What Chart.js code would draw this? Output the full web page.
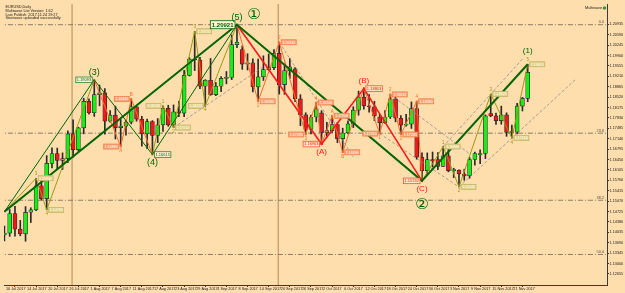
<!DOCTYPE html>
<html>
<head>
<meta charset="utf-8">
<script src="https://cdn.jsdelivr.net/npm/chart.js@4.4.0/dist/chart.umd.min.js"></script>
<style>
  html, body { margin: 0; padding: 0; background: #ffdead; }
  canvas { display: block; }
</style>
</head>
<body>
<canvas id="chart" width="625" height="293"></canvas>
<script>
// EURUSD daily, 10 Jul - 24 Nov 2017
const days = ['10 Jul','11 Jul','12 Jul','13 Jul','14 Jul','17 Jul','18 Jul','19 Jul','20 Jul','21 Jul',
  '24 Jul','25 Jul','26 Jul','27 Jul','28 Jul','31 Jul','1 Aug','2 Aug','3 Aug','4 Aug',
  '7 Aug','8 Aug','9 Aug','10 Aug','11 Aug','14 Aug','15 Aug','16 Aug','17 Aug','18 Aug',
  '21 Aug','22 Aug','23 Aug','24 Aug','25 Aug','28 Aug','29 Aug','30 Aug','31 Aug','1 Sep',
  '4 Sep','5 Sep','6 Sep','7 Sep','8 Sep','11 Sep','12 Sep','13 Sep','14 Sep','15 Sep',
  '18 Sep','19 Sep','20 Sep','21 Sep','22 Sep','25 Sep','26 Sep','27 Sep','28 Sep','29 Sep',
  '2 Oct','3 Oct','4 Oct','5 Oct','6 Oct','9 Oct','10 Oct','11 Oct','12 Oct','13 Oct',
  '16 Oct','17 Oct','18 Oct','19 Oct','20 Oct','23 Oct','24 Oct','25 Oct','26 Oct','27 Oct',
  '30 Oct','31 Oct','1 Nov','2 Nov','3 Nov','6 Nov','7 Nov','8 Nov','9 Nov','10 Nov',
  '13 Nov','14 Nov','15 Nov','16 Nov','17 Nov','20 Nov','21 Nov','22 Nov','23 Nov','24 Nov'];

const open = [1.1395,1.1401,1.1466,1.1414,1.1398,1.1470,1.1478,1.1558,1.1515,1.1632,
  1.1665,1.1642,1.1648,1.1730,1.1678,1.1750,1.1838,1.1800,1.1860,1.1866,
  1.1772,1.1792,1.1751,1.1756,1.1769,1.1820,1.1779,1.1730,1.1771,1.1725,
  1.1760,1.1815,1.1760,1.1803,1.1799,1.1924,1.1978,1.1975,1.1888,1.1908,
  1.1860,1.1888,1.1914,1.1917,1.2026,1.2010,1.1961,1.1966,1.1886,1.1919,
  1.1943,1.1950,1.1997,1.1893,1.1940,1.1946,1.1846,1.1793,1.1745,1.1786,
  1.1800,1.1734,1.1741,1.1761,1.1714,1.1733,1.1763,1.1809,1.1852,1.1823,
  1.1820,1.1786,1.1767,1.1786,1.1846,1.1782,1.1759,1.1762,1.1814,1.1653,
  1.1608,1.1645,1.1645,1.1622,1.1657,1.1608,1.1610,1.1597,1.1591,1.1645,
  1.1660,1.1665,1.1797,1.1790,1.1774,1.1793,1.1735,1.1736,1.1822,1.1848];
const high = [1.1424,1.1479,1.1490,1.1443,1.1489,1.1485,1.1583,1.1583,1.1658,1.1684,
  1.1683,1.1667,1.1740,1.1777,1.1752,1.1848,1.1846,1.1909,1.1892,1.1880,
  1.1807,1.1822,1.1778,1.1775,1.1846,1.1822,1.1788,1.1779,1.1774,1.1781,
  1.1823,1.1825,1.1826,1.1838,1.1941,1.1983,1.2070,1.1984,1.1910,1.1980,
  1.1900,1.1920,1.1937,1.2058,1.2092,1.2022,1.1996,1.1979,1.1978,1.1989,
  1.1995,1.2010,1.2034,1.1962,1.1980,1.1950,1.1860,1.1800,1.1792,1.1834,
  1.1807,1.1768,1.1790,1.1768,1.1749,1.1773,1.1820,1.1872,1.1880,1.1860,
  1.1838,1.1795,1.1807,1.1861,1.1852,1.1791,1.1795,1.1836,1.1838,1.1667,
  1.1667,1.1670,1.1668,1.1688,1.1686,1.1616,1.1611,1.1613,1.1652,1.1670,
  1.1677,1.1793,1.1862,1.1799,1.1822,1.1800,1.1759,1.1831,1.1851,1.1961];
const low = [1.1375,1.1390,1.1391,1.1392,1.1374,1.1436,1.1475,1.1511,1.1478,1.1617,
  1.1612,1.1612,1.1635,1.1653,1.1672,1.1730,1.1795,1.1788,1.1823,1.1729,
  1.1769,1.1713,1.1688,1.1726,1.1763,1.1772,1.1689,1.1681,1.1662,1.1701,
  1.1738,1.1755,1.1751,1.1787,1.1787,1.1922,1.1940,1.1880,1.1822,1.1858,
  1.1857,1.1870,1.1896,1.1910,1.2016,1.1944,1.1942,1.1869,1.1838,1.1907,
  1.1941,1.1943,1.1862,1.1861,1.1914,1.1837,1.1757,1.1728,1.1730,1.1770,
  1.1696,1.1719,1.1735,1.1701,1.1669,1.1730,1.1751,1.1792,1.1812,1.1802,
  1.1774,1.1731,1.1765,1.1781,1.1770,1.1728,1.1756,1.1748,1.1646,1.1574,
  1.1596,1.1620,1.1611,1.1622,1.1604,1.1585,1.1554,1.1576,1.1583,1.1626,
  1.1631,1.1648,1.1787,1.1761,1.1762,1.1722,1.1716,1.1730,1.1806,1.1837];
const close = [1.1401,1.1466,1.1414,1.1398,1.1470,1.1478,1.1558,1.1515,1.1632,1.1665,
  1.1642,1.1648,1.1730,1.1678,1.1750,1.1838,1.1800,1.1860,1.1866,1.1772,
  1.1792,1.1751,1.1756,1.1769,1.1820,1.1779,1.1730,1.1771,1.1725,1.1760,
  1.1815,1.1760,1.1803,1.1799,1.1924,1.1978,1.1975,1.1888,1.1908,1.1860,
  1.1888,1.1914,1.1917,1.2026,1.2034,1.1961,1.1966,1.1886,1.1919,1.1943,
  1.1950,1.1997,1.1893,1.1940,1.1952,1.1846,1.1793,1.1745,1.1786,1.1813,
  1.1734,1.1741,1.1761,1.1714,1.1733,1.1763,1.1809,1.1852,1.1823,1.1820,
  1.1790,1.1767,1.1786,1.1846,1.1782,1.1759,1.1762,1.1814,1.1653,1.1608,
  1.1645,1.1640,1.1622,1.1657,1.1608,1.1610,1.1597,1.1591,1.1645,1.1665,
  1.1665,1.1790,1.1790,1.1774,1.1793,1.1735,1.1736,1.1822,1.1848,1.1934];

// axis labels
const dateTicks = [0,4,8,12,16,20,24,28,32,36,40,44,48,52,56,60,64,68,72,76,80,84,88,92,96];
const priceTicks = [1.20935,1.20590,1.20245,1.19900,1.19555,1.19210,1.18865,1.18520,1.18175,
  1.17830,1.17485,1.17140,1.16795,1.16450,1.16105,1.15760,1.15415,1.15070,1.14725,1.14380,
  1.14035,1.13690,1.13345,1.13000,1.12655];

// fibonacci retracement levels and event markers
const fibLabels = ['0.0','23.6','38.2','50.0'];
const fibPrices = [1.20921,1.17324,1.15099,1.13301];
const eventIdx = [12.8, 51.8];

// wave counts: bar index, price, label
const primIdx = [0, 44, 79, 99];
const primPx = [1.1472, 1.20921, 1.15742, 1.1961];
const primLbl = ['', '①', '②', '(1)'];

const intIdx = [0, 17, 28, 44];
const intPx = [1.1472, 1.19093, 1.16615, 1.20921];
const intLbl = ['', '(3)', '(4)', '(5)'];

const abcIdx = [44, 60, 68, 79];
const abcPx = [1.20921, 1.16963, 1.18803, 1.15742];
const abcLbl = ['', '(A)', '(B)', '(C)'];

const w3Idx = [0, 6, 8, 17];
const w3Px = [1.1472, 1.1583, 1.1478, 1.19093];
const w3Lbl = ['', '3', '4', ''];

const w4Idx = [17, 22, 24, 28];
const w4Px = [1.19093, 1.1688, 1.1846, 1.16615];
const w4Lbl = ['', 'A', 'B', ''];

const w5Idx = [28, 30, 32, 36, 38, 44];
const w5Px = [1.16615, 1.1823, 1.1751, 1.20705, 1.18225, 1.20921];
const w5Lbl = ['', '1', '2', '3', '4', ''];

const wAIdx = [44, 48, 52, 57, 59, 60];
const wAPx = [1.20921, 1.1838, 1.2034, 1.1728, 1.1834, 1.16963];
const wALbl = ['', '1', '2', '3', '4', ''];

const wBIdx = [60, 62, 64, 68];
const wBPx = [1.16963, 1.1790, 1.1669, 1.18803];
const wBLbl = ['', 'A', 'B', ''];

const wCIdx = [68, 71, 73, 75, 78, 79];
const wCPx = [1.18803, 1.1731, 1.1861, 1.1728, 1.1838, 1.15742];
const wCLbl = ['', '1', '2', '3', '4', ''];

const w1Idx = [79, 83, 86, 92, 96, 99];
const w1Px = [1.15742, 1.1688, 1.1554, 1.1862, 1.1716, 1.1961];
const w1Lbl = ['', '1', '2', '3', '4', '5'];

// channel lines (start / end)
const chanI0 = [32, 52, 73, 71, 86, 83];
const chanP0 = [1.1751, 1.2034, 1.1861, 1.1731, 1.1554, 1.1688];
const chanI1 = [50, 66, 88, 86, 108, 98];
const chanP1 = [1.1965, 1.1654, 1.1664, 1.1554, 1.1910, 1.1978];

const infoLines = ['EURUSD,Daily', 'Multiwave Lite Version: 1.62', 'Last Publish: 2017.11.24 19:27', 'Stratwave uploaded successfully'];

// ---------------------------------------------------------------
const FONT = '"Liberation Sans", Arial, sans-serif';
const GREEN = '#006400', RED = '#ff1a1a', ORANGE = '#ff6a2a', OLIVE = '#9a9a10';

const boxPrim = { size: 6, bold: true, pad: 1.5, padY: 1, gap: 2, fill: '#fff3d6', edge: GREEN, text: GREEN };
const boxInt = { size: 4, bold: false, pad: 1, padY: 0.8, gap: 2, fill: '#fff3d6', edge: '#2e7d2e', text: GREEN };
const boxRed = { size: 4, bold: false, pad: 1, padY: 0.8, gap: 2, fill: '#ffe6cc', edge: '#ff5030', text: '#ee2200' };
const boxOrg = { size: 3.6, bold: false, pad: 1, padY: 0.7, gap: 2, fill: '#f7a67a', edge: '#f08050', text: '#fff6ea' };
const boxOli = { size: 3.6, bold: false, pad: 1, padY: 0.7, gap: 2, fill: '#e3d38c', edge: '#c4b46a', text: '#fffdf0' };

const groups = [
  { i: w3Idx, p: w3Px, t: w3Lbl, color: OLIVE, lw: 1, font: 4.5, gap: 2, box: boxOli, side: ['', 'R', 'R', ''] },
  { i: w4Idx, p: w4Px, t: w4Lbl, color: ORANGE, lw: 1, font: 4.5, gap: 2, box: boxOrg, side: ['', 'L', 'L', ''], dots: true },
  { i: w5Idx, p: w5Px, t: w5Lbl, color: OLIVE, lw: 1, font: 4.5, gap: 2, box: boxOli, side: ['', 'L', 'R', 'R', 'L', ''] },
  { i: wAIdx, p: wAPx, t: wALbl, color: ORANGE, lw: 1, font: 4.5, gap: 2, box: boxOrg, side: ['', 'R', 'R', 'L', 'R', ''], dots: true },
  { i: wBIdx, p: wBPx, t: wBLbl, color: ORANGE, lw: 1, font: 4.5, gap: 2, box: boxOrg, side: ['', 'R', 'R', ''], dots: true },
  { i: wCIdx, p: wCPx, t: wCLbl, color: ORANGE, lw: 1, font: 4.5, gap: 2, box: boxOrg, side: ['', 'L', 'R', 'R', 'R', ''], dots: true },
  { i: w1Idx, p: w1Px, t: w1Lbl, color: OLIVE, lw: 1, font: 4.5, gap: 2, box: boxOli, side: ['', 'R', 'R', 'R', 'R', ''] },
  { i: intIdx, p: intPx, t: intLbl, color: GREEN, lw: 1, font: 9, gap: 3, box: boxInt, side: ['', 'L', 'R', 'L'] },
  { i: abcIdx, p: abcPx, t: abcLbl, color: RED, lw: 1.6, font: 8, gap: 3.5, box: boxRed, side: ['', 'L', 'R', 'L'], dots: true },
  { i: primIdx, p: primPx, t: primLbl, color: GREEN, lw: 2, font: 8, gap: 3, box: null, side: [] }
];

const datasets = [];

// candles: wicks then bodies
datasets.push({
  type: 'bar', order: 21, grouped: false, barThickness: 1,
  data: days.map((d, k) => ({ x: k, y: [low[k], high[k]] })),
  backgroundColor: '#2a2a2a'
});
datasets.push({
  type: 'bar', order: 20, grouped: false, barThickness: 4, minBarLength: 1,
  borderSkipped: false, borderWidth: 0.7, borderColor: '#262626',
  data: days.map((d, k) => ({ x: k, y: [open[k], close[k]] })),
  backgroundColor: days.map((d, k) => close[k] >= open[k] ? '#16ee16' : '#ee1a1a')
});

// fib levels and event lines
fibPrices.forEach(v => datasets.push({
  type: 'line', order: 30, data: [{ x: -5, y: v }, { x: 120, y: v }],
  borderColor: '#6a6458', borderWidth: 0.8, borderDash: [5, 2, 1, 2], pointRadius: 0
}));
eventIdx.forEach(v => datasets.push({
  type: 'line', order: 30, data: [{ x: v, y: 1.10 }, { x: v, y: 1.23 }],
  borderColor: '#b38a55', borderWidth: 1, pointRadius: 0
}));

// channel lines
chanI0.forEach((v, k) => datasets.push({
  type: 'line', order: 9, data: [{ x: v, y: chanP0[k] }, { x: chanI1[k], y: chanP1[k] }],
  borderColor: '#8c8c8c', borderWidth: 0.8, borderDash: [3, 2], pointRadius: 0
}));

// wave lines
groups.forEach((g, n) => datasets.push({
  type: 'line', order: 8 - n * 0.1,
  data: g.i.map((v, k) => ({ x: v, y: g.p[k] })),
  borderColor: g.color, borderWidth: g.lw, tension: 0,
  pointRadius: g.dots ? 1.3 : 0, pointStyle: 'rect',
  pointBackgroundColor: g.color, pointBorderWidth: 0
}));

function drawBox(ctx, x, y, txt, side, st) {
  ctx.font = (st.bold ? 'bold ' : '') + st.size + 'px ' + FONT;
  const w = ctx.measureText(txt).width + st.pad * 2;
  const h = st.size + st.padY * 2;
  const bx = side === 'L' ? x - st.gap - w : x + st.gap;
  const by = y - h / 2;
  ctx.fillStyle = st.fill;
  ctx.fillRect(bx, by, w, h);
  ctx.strokeStyle = st.edge;
  ctx.lineWidth = 0.8;
  ctx.strokeRect(bx, by, w, h);
  ctx.fillStyle = st.text;
  ctx.textAlign = 'left';
  ctx.textBaseline = 'middle';
  ctx.fillText(txt, bx + st.pad, y + 0.3);
}

const annotate = {
  id: 'annotate',
  afterDatasetsDraw(chart) {
    const ctx = chart.ctx, xs = chart.scales.x, ys = chart.scales.y, a = chart.chartArea;
    ctx.save();
    ctx.beginPath();
    ctx.rect(a.left, a.top, a.right - a.left, a.bottom - a.top);
    ctx.clip();

    // fib level names
    ctx.font = '3.8px ' + FONT;
    ctx.fillStyle = '#4a4a4a';
    ctx.textAlign = 'right';
    ctx.textBaseline = 'bottom';
    fibPrices.forEach((v, k) => ctx.fillText(fibLabels[k], a.right - 3, ys.getPixelForValue(v) - 0.5));

    groups.forEach(g => {
      g.t.forEach((txt, k) => {
        if (!txt) return;
        const x = xs.getPixelForValue(g.i[k]);
        const y = ys.getPixelForValue(g.p[k]);
        const peak = k > 0 ? g.p[k] > g.p[k - 1] : g.p[k] > g.p[k + 1];
        // price box
        if (g.box) {
          const st = (g === groups[7] && k === 3) ? boxPrim : g.box;
          drawBox(ctx, x, y, g.p[k].toFixed(5), g.side[k], st);
        }
        // wave label
        ctx.fillStyle = g.color;
        ctx.textAlign = 'center';
        let lx = x, ly, size = g.font;
        if (txt === '①' || txt === '②') {
          size = 15;
          ctx.font = size + 'px "DejaVu Sans", sans-serif';
          ctx.textBaseline = 'middle';
          if (peak) { lx = x + 17; ly = y - 10; } else { ly = y + 24; }
        } else {
          ctx.font = size + 'px ' + FONT;
          if (txt === '(1)') { ctx.textBaseline = 'bottom'; ly = y - 9; }
          else if (peak) { ctx.textBaseline = 'bottom'; ly = y - g.gap; }
          else { ctx.textBaseline = 'top'; ly = y + g.gap; }
        }
        ctx.fillText(txt, lx, ly);
      });
    });

    // info text
    ctx.font = '3.8px ' + FONT;
    ctx.fillStyle = '#202020';
    ctx.textAlign = 'left';
    ctx.textBaseline = 'top';
    infoLines.forEach((s, k) => ctx.fillText(s, a.left + 1.5, a.top + 1 + k * 3.8));
    ctx.textAlign = 'right';
    ctx.fillText('Multiwave', a.right - 5, a.top + 2);
    ctx.fillStyle = '#3b9a3b';
    ctx.beginPath();
    ctx.arc(a.right - 2.5, a.top + 4, 1.8, 0, Math.PI * 2);
    ctx.fill();
    ctx.restore();
  }
};

new Chart(document.getElementById('chart'), {
  type: 'bar',
  data: { datasets: datasets },
  options: {
    responsive: false,
    animation: false,
    devicePixelRatio: 1,
    events: [],
    layout: { padding: 0 },
    plugins: { legend: { display: false }, tooltip: { enabled: false } },
    scales: {
      x: {
        type: 'linear', min: -0.075, max: 114, offset: false,
        grid: { display: true, drawOnChartArea: false, drawTicks: true, tickLength: 2, color: '#333333' },
        border: { display: true, color: '#3a3a3a', width: 1 },
        ticks: {
          autoSkip: false, maxRotation: 0, align: 'start', padding: 0, labelOffset: 1.5,
          font: { size: 3.8, family: FONT }, color: '#222222',
          callback: v => days[v] + ' 2017'
        },
        afterBuildTicks: s => { s.ticks = dateTicks.map(v => ({ value: v })); },
        afterFit: s => { s.height = 8; s.paddingLeft = 0; s.paddingRight = 0; }
      },
      y: {
        type: 'linear', position: 'right', min: 1.12288, max: 1.21608,
        grid: { display: true, drawOnChartArea: false, drawTicks: true, tickLength: 2, color: '#333333' },
        border: { display: true, color: '#3a3a3a', width: 1 },
        ticks: {
          autoSkip: false, padding: 0.5,
          font: { size: 3.8, family: FONT }, color: '#222222',
          callback: v => v.toFixed(5)
        },
        afterBuildTicks: s => { s.ticks = priceTicks.map(v => ({ value: v })); },
        afterFit: s => { s.width = 18; s.paddingTop = 0; s.paddingBottom = 0; }
      }
    }
  },
  plugins: [annotate]
});
</script>
</body>
</html>
